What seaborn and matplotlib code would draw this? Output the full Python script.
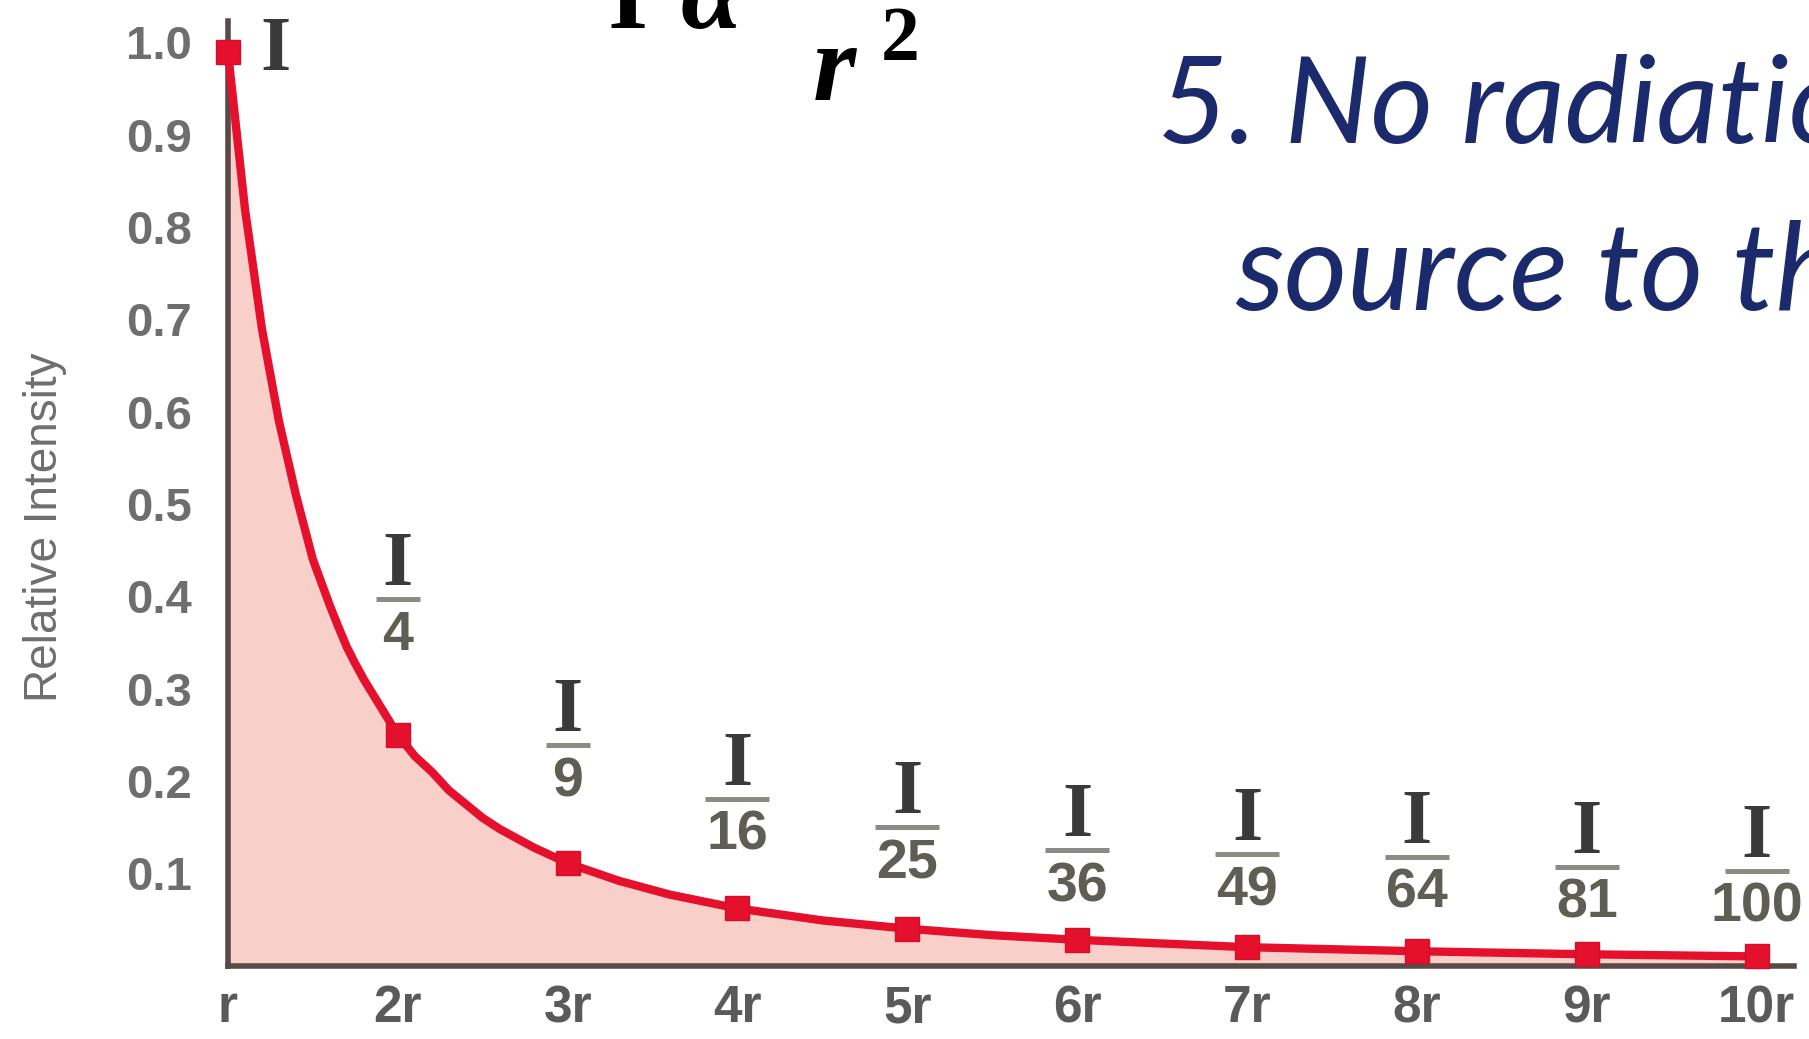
import numpy as np
import matplotlib
matplotlib.use("Agg")
import matplotlib.pyplot as plt
from matplotlib.transforms import ScaledTranslation
import seaborn as sns

# values
distance_labels = ["r", "2r", "3r", "4r", "5r", "6r", "7r", "8r", "9r", "10r"]
distances = [1, 2, 3, 4, 5, 6, 7, 8, 9, 10]
intensity = [0.99, 0.25, 0.111, 0.0625, 0.04, 0.028, 0.02, 0.0156, 0.0123, 0.01]
denominators = ["4", "9", "16", "25", "36", "49", "64", "81", "100"]

# the drawn curve, read at finer steps
curve_x = [1.0, 1.05, 1.1, 1.15, 1.2, 1.25, 1.3, 1.35, 1.4, 1.45, 1.5, 1.55,
           1.6, 1.65, 1.7, 1.75, 1.8, 1.9, 2.0, 2.1, 2.2, 2.3, 2.4, 2.5, 2.6,
           2.8, 3.0, 3.3, 3.6, 4.0, 4.5, 5.0, 5.5, 6.0, 7.0, 8.0, 9.0, 10.0]
curve_y = [0.99, 0.905, 0.82, 0.755, 0.69, 0.64, 0.59, 0.55, 0.51, 0.475, 0.44,
           0.415, 0.39, 0.367, 0.345, 0.327, 0.31, 0.28, 0.25, 0.227, 0.21,
           0.19, 0.175, 0.16, 0.148, 0.128, 0.111, 0.092, 0.077, 0.062, 0.049,
           0.04, 0.033, 0.028, 0.02, 0.0156, 0.0123, 0.01]

ytick_values = [0.1, 0.2, 0.3, 0.4, 0.5, 0.6, 0.7, 0.8, 0.9, 1.0]

# where the fraction bars sit (data y)
frac_bar_y = [0.397, 0.239, 0.181, 0.150, 0.125, 0.121, 0.118, 0.107, 0.103]

sns.set_style("white")
plt.rcParams["font.family"] = ["Liberation Sans", "DejaVu Sans"]

RED = "#e5102c"
PINK = "#f9cfca"
SPINE = "#5a4a47"
GRAY = "#6e6e6e"

fig = plt.figure(figsize=(18.09, 10.39), dpi=100)
ax = fig.add_axes([0.126, 0.0706, 0.8657, 0.909])

ax.fill_between(curve_x, curve_y, 0, color=PINK, lw=0, zorder=1)
sns.lineplot(x=curve_x, y=curve_y, ax=ax, color=RED, lw=6, zorder=3)
ax.lines[-1].set_clip_on(False)
ax.lines[-1].set_solid_joinstyle("round")
ax.plot(distances, intensity, ls="none", marker="s", ms=17, color=RED,
        mec="#d40f2a", zorder=4, clip_on=False)

ax.set_xlim(1, 10.22)
ax.set_ylim(0, 1.023)
ax.set_xticks(distances)
ax.set_xticklabels(distance_labels, weight="bold")
ax.set_yticks(ytick_values)
ax.set_yticklabels([f"{v:.1f}" for v in ytick_values], weight="bold")

for s in ["top", "right"]:
    ax.spines[s].set_visible(False)
for s in ["left", "bottom"]:
    ax.spines[s].set_color(SPINE)
    ax.spines[s].set_linewidth(4)
    ax.spines[s].set_zorder(2)

ax.tick_params(axis="x", direction="inout", length=21, width=3, color="#3a2e2e",
               labelsize=37, labelcolor="#5a5a5a", pad=3)
ax.tick_params(axis="y", direction="inout", length=16, width=3, color="#3a2e2e",
               labelsize=34, labelcolor=GRAY, pad=18)
ax.set_xlabel("")
ax.set_ylabel("")

fig.text(0.025, 0.493, "Relative Intensity", rotation=90, ha="center", va="center",
         fontsize=33, color="#6e6e6e")

# "I" next to the first point, then the I/n fractions
ax.text(1.28, 0.97, "I", ha="center", va="baseline", fontsize=56,
        family="Liberation Serif", weight="bold", color="#3a3a3a")
for x, yb, d in zip(distances[1:], frac_bar_y, denominators):
    ax.annotate("I", xy=(x, yb), xytext=(0, 10), textcoords="offset points",
                ha="center", va="baseline", fontsize=56, weight="bold",
                family="Liberation Serif", color="#3a3a3a")
    ax.annotate(d, xy=(x, yb), xytext=(0, -8), textcoords="offset points",
                ha="center", va="top", fontsize=40, color="#5e5e54", weight="bold")
    half = 0.22 if len(d) == 1 else 0.32
    tr = fig.dpi_scale_trans + ScaledTranslation(x, yb, ax.transData)
    ax.plot([-half, half], [0, 0], transform=tr, color="#8c8c86", lw=3.6,
            solid_capstyle="butt", clip_on=False)

# slide text around the chart
fig.text(0.336, 0.973, "I", fontsize=74, family="Liberation Serif",
         weight="bold", color="black", va="baseline")
fig.text(0.376, 0.973, "α", fontsize=80, family="Liberation Serif",
         weight="bold", style="italic", color="black", va="baseline")
fig.text(0.449, 0.904, "r", fontsize=80, family="Liberation Serif",
         weight="bold", style="italic", color="black", va="baseline")
fig.text(0.487, 0.942, "2", fontsize=56, family="Liberation Serif",
         weight="bold", color="black", va="baseline")

NAVY = "#1a2a6c"
fig.text(0.640, 1 - 143 / 1039, "5. No radiation", fontsize=87, family="Lato",
         style="italic", color=NAVY, va="baseline")
fig.text(0.683, 1 - 310 / 1039, "source to the", fontsize=88, family="Lato",
         style="italic", color=NAVY, va="baseline")

fig.savefig("out.png", dpi=100)
